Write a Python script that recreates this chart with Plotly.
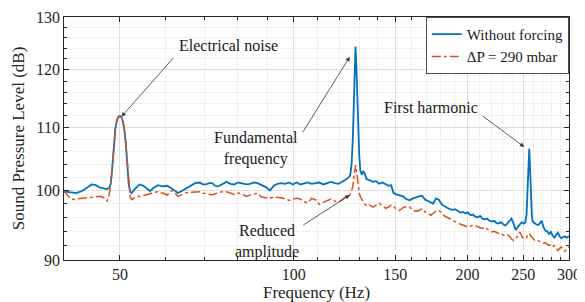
import numpy as np
import plotly.graph_objects as go

freq = [40.0, 40.6, 41.2, 42.0, 43.0, 44.0, 44.7, 45.4, 46.2, 46.9, 47.5, 47.9,
        48.2, 48.5, 48.8, 49.1, 49.4, 49.7, 50.0, 50.3, 50.6, 50.9, 51.2, 51.5, 51.8,
        52.1, 52.4, 53.2, 54.1, 54.9, 55.6, 56.4, 57.2, 58.2, 59.3, 60.4, 61.5, 62.3,
        63.0, 64.0, 64.9, 66.0, 67.5, 68.8, 69.6, 70.5, 71.4, 72.2, 73.1, 74.0, 75.2,
        76.5, 77.7, 78.9, 80.1, 81.4, 82.7, 84.0, 85.3, 86.6, 87.9, 89.5, 91.0, 92.4,
        93.8, 95.2, 96.7, 98.2, 99.7, 101.2, 102.7, 104.2, 105.8, 107.4, 109.1, 110.8,
        112.5, 114.2, 116.0, 117.8, 119.6, 121.4, 123.0, 124.3, 125.3, 126.0, 126.6,
        127.1, 127.6, 128.0, 128.4, 128.9, 129.4, 129.9, 130.5, 131.3, 132.0, 132.8,
        133.6, 134.6, 136.0, 137.2, 138.9, 140.6, 142.5, 144.5, 146.0, 147.5, 149.0,
        150.6, 152.6, 154.6, 156.7, 158.8, 161.0, 163.0, 165.0, 167.0, 169.0, 171.0,
        173.0, 174.5, 176.5, 178.5, 180.5, 182.5, 184.5, 186.5, 188.5, 190.5, 192.5,
        194.5, 196.5, 198.5, 200.5, 202.5, 204.5, 206.5, 208.5, 210.5, 212.5, 214.5,
        216.5, 218.5, 220.5, 222.5, 224.5, 226.5, 228.5, 230.5, 232.5, 234.5, 236.5,
        238.5, 240.5, 242.5, 244.5, 246.5, 248.5, 250.5, 252.0, 253.3, 254.3, 255.2,
        256.0, 256.8, 257.7, 258.6, 259.5, 261.0, 263.0, 265.0, 267.0, 269.0, 271.0,
        273.0, 275.0, 277.0, 279.0, 281.0, 283.0, 285.0, 287.0, 289.0, 291.0, 293.0,
        295.0, 297.0, 299.0, 300.0]

without_forcing = [99.8, 99.8, 99.7, 99.6, 99.9, 100.5, 100.9, 100.8, 100.4, 100.3, 100.2, 100.4,
        101.0, 103.5, 107.0, 109.8, 111.2, 111.8, 111.9, 111.7, 111.0, 109.6, 107.2, 104.0, 100.8,
        99.8, 99.6, 100.3, 100.9, 100.7, 100.3, 99.9, 100.4, 100.8, 100.6, 100.7, 100.3, 99.9,
        99.6, 99.9, 100.2, 100.6, 101.1, 101.2, 100.9, 100.9, 101.1, 101.1, 100.7, 100.6, 101.0,
        101.3, 101.0, 100.9, 101.2, 101.1, 100.9, 101.0, 101.2, 101.1, 100.8, 100.5, 100.0, 100.7,
        101.0, 101.1, 101.0, 101.2, 100.9, 101.2, 100.9, 101.0, 101.2, 101.0, 101.1, 101.2,
        100.9, 101.1, 101.3, 101.1, 101.0, 101.3, 101.7, 101.9, 102.3, 104.0, 108.0,
        113.0, 119.0, 124.3, 121.0, 115.0, 109.5, 105.5, 103.0, 102.4, 102.9, 102.6,
        101.8, 101.6, 101.5, 101.3, 101.4, 101.0, 101.2, 100.9, 100.7, 100.8, 99.6,
        99.4, 99.3, 99.1, 98.7, 98.5, 98.8, 99.0, 99.1, 99.2, 98.6, 98.4,
        98.1, 98.0, 98.8, 98.6, 97.9, 97.6, 97.4, 97.2, 97.1, 97.2, 96.9,
        96.7, 96.8, 96.6, 96.7, 96.3, 96.4, 96.1, 96.0, 96.2, 95.8, 95.7,
        95.8, 95.5, 95.4, 95.5, 95.2, 95.1, 95.3, 95.0, 94.8, 95.1, 95.4,
        95.8, 95.1, 94.2, 94.6, 95.0, 95.3, 95.1, 95.3, 96.5, 99.5, 103.5,
        106.5, 103.5, 99.5, 96.5, 95.4, 95.2, 95.0, 94.9, 95.1, 95.5, 94.6,
        94.1, 94.0, 93.6, 93.9, 93.4, 93.1, 93.5, 93.8, 93.3, 93.0, 93.2,
        93.3, 93.1, 93.2, 93.3]

dp_290 = [99.9, 99.3, 98.6, 98.7, 98.8, 98.9, 99.0, 99.1, 99.1, 98.9, 98.4, 99.4,
        101.0, 103.5, 107.0, 109.8, 111.2, 111.8, 111.9, 111.7, 111.0, 109.6, 107.2, 104.0, 100.8,
        99.0, 98.6, 99.0, 99.1, 99.2, 99.3, 99.5, 99.7, 99.8, 99.6, 99.3, 100.0, 99.6,
        99.1, 99.4, 99.6, 99.7, 99.8, 99.8, 99.6, 99.5, 99.3, 99.3, 99.5, 99.6, 99.8,
        99.8, 99.6, 99.4, 99.6, 99.5, 99.1, 99.3, 99.5, 99.6, 99.0, 98.9, 98.8, 99.0,
        99.0, 98.9, 98.7, 98.5, 98.7, 98.8, 98.7, 98.3, 98.1, 98.8, 98.6, 97.9,
        98.2, 98.5, 98.7, 98.4, 98.2, 98.6, 99.0, 99.0, 99.4, 99.9, 100.6,
        101.8, 103.0, 103.9, 103.3, 102.0, 100.8, 99.6, 99.0, 98.6, 98.3, 97.9,
        97.8, 98.0, 97.7, 97.5, 97.8, 98.1, 97.7, 97.3, 97.5, 97.8, 97.6,
        97.2, 97.0, 97.4, 97.6, 97.5, 97.0, 96.9, 97.0, 97.3, 96.8, 96.5,
        96.3, 96.6, 96.9, 97.0, 96.7, 96.2, 96.0, 95.8, 95.5, 95.3, 95.2,
        95.0, 94.9, 94.7, 94.6, 94.7, 94.9, 94.8, 94.6, 94.5, 94.4, 94.6,
        94.3, 94.1, 93.9, 94.0, 93.8, 93.7, 93.8, 93.5, 93.4, 93.5, 93.3,
        92.9, 92.7, 92.9, 93.4, 93.9, 93.3, 92.9, 93.0, 93.1, 93.4, 93.6,
        93.7, 93.5, 93.3, 93.2, 93.0, 92.8, 92.6, 92.7, 92.5, 92.4, 92.3,
        92.4, 92.2, 92.0, 92.1, 91.8, 92.0, 91.6, 91.3, 91.6, 91.8, 91.4,
        91.2, 91.5, 91.6, 91.8]

x_major = [50, 100, 150, 200, 250, 300]
x_minor = [40, 60, 70, 80, 90, 110, 120, 130, 140, 160, 170, 180, 190,
           210, 220, 230, 240, 260, 270, 280, 290]
y_major = [90, 100, 110, 120, 130]
y_minor = [92, 94, 96, 98, 102, 104, 106, 108, 112, 114, 116, 118, 122, 124, 126, 128]

FONT = "Liberation Serif"
AX = "#262626"

# the page body has an 8 px margin: the figure is placed at (8, 8)
OFF = 8
FIG_W, FIG_H = 585 - OFF, 302 - OFF

fig = go.Figure()
fig.add_trace(go.Scatter(x=freq, y=without_forcing, mode="lines", name="Without forcing",
                         line=dict(color="#0072BD", width=1.8)))
fig.add_trace(go.Scatter(x=freq, y=dp_290, mode="lines", name="ΔP = 290 mbar",
                         line=dict(color="#D95319", width=1.5, dash="dashdot")))

# plot area in page pixels
L, R, T, B = 64, 569, 17, 260
W, H = R - L, B - T

def px(x):
    return (x - L) / W

def py(y):
    return (B - y) / H

texts = [
    ("Electrical noise", 228, 45),
    ("Fundamental<br>frequency", 256, 148.5),
    ("First harmonic", 431, 108),
    ("Reduced<br>amplitude", 267, 241),
]
for t, x, y in texts:
    fig.add_annotation(text=t, x=px(x), y=py(y), xref="paper", yref="paper",
                       showarrow=False, font=dict(family=FONT, size=16, color="#1a1a1a"),
                       xanchor="center", yanchor="middle")

arrows = [
    (50.3, 111.8, 53, -60),
    (125.1, 122.4, -48, 77),
    (250.9, 106.8, -43, -32),
    (125.1, 99.3, -48, 31),
]
for f, db, ax, ay in arrows:
    fig.add_annotation(x=np.log10(f), y=np.log10(db), xref="x", yref="y", text="",
                       showarrow=True, ax=ax, ay=ay, arrowhead=2, arrowsize=1.1,
                       arrowwidth=0.8, arrowcolor="#333333", standoff=0, startstandoff=0)

axis_common = dict(
    ticks="inside", ticklen=5, tickwidth=0.8, tickcolor=AX,
    showline=True, linecolor=AX, linewidth=0.8, mirror="ticks",
    showgrid=True, gridcolor="#dedede", gridwidth=0.7,
    tickfont=dict(family=FONT, size=16, color=AX),
    zeroline=False, automargin=False,
)

fig.update_layout(
    width=FIG_W, height=FIG_H,
    margin=dict(l=L - OFF, r=585 - R, t=T - OFF, b=302 - B),
    plot_bgcolor="white", paper_bgcolor="white",
    font=dict(family=FONT, color=AX),
    xaxis=dict(type="log", range=[np.log10(40), np.log10(300)],
               tickmode="array", tickvals=x_major, ticktext=[str(v) for v in x_major],
               minor=dict(tickmode="array", tickvals=x_minor, ticks="inside", ticklen=3,
                          tickcolor=AX, showgrid=True, gridcolor="#f0f0f0", gridwidth=0.6),
               title=dict(text="Frequency (Hz)", font=dict(family=FONT, size=17, color=AX),
                          standoff=2),
               **axis_common),
    yaxis=dict(type="log", range=[np.log10(90), np.log10(130)],
               tickmode="array", tickvals=y_major, ticktext=[str(v) for v in y_major],
               minor=dict(tickmode="array", tickvals=y_minor, ticks="inside", ticklen=3,
                          tickcolor=AX, showgrid=True, gridcolor="#f0f0f0", gridwidth=0.6),
               title=dict(text="Sound Pressure Level (dB)", font=dict(family=FONT, size=17, color=AX),
                          standoff=6),
               **axis_common),
    legend=dict(x=1, xanchor="right", y=1, yanchor="top", bgcolor="white",
                bordercolor=AX, borderwidth=0.8, font=dict(family=FONT, size=15, color="#1a1a1a"),
                itemwidth=30, tracegroupgap=0),
    showlegend=True,
)

fig.write_html("out.html")
